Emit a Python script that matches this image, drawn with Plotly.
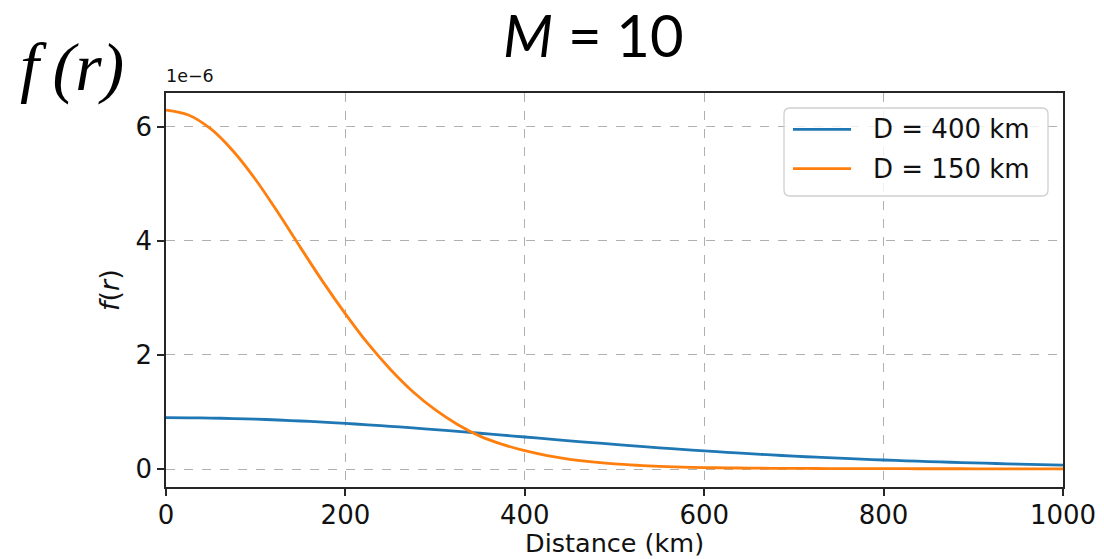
import plotly.graph_objects as go

# Distance from the source (km) and density curves, in units of 1e-6
distance_km = [0, 25, 50, 75, 100, 125, 150, 175, 200, 225, 250, 275, 300, 325, 350,
               375, 400, 425, 450, 475, 500, 525, 550, 575, 600, 625, 650, 675, 700,
               725, 750, 775, 800, 825, 850, 875, 900, 925, 950, 975, 1000]
f_d400 = [0.900, 0.898, 0.893, 0.885, 0.874, 0.859, 0.842, 0.822, 0.800, 0.775, 0.749,
          0.720, 0.690, 0.659, 0.627, 0.594, 0.561, 0.528, 0.495, 0.463, 0.432, 0.401,
          0.372, 0.344, 0.317, 0.292, 0.269, 0.247, 0.226, 0.207, 0.190, 0.173, 0.158,
          0.144, 0.131, 0.119, 0.107, 0.097, 0.087, 0.078, 0.070]
f_d150 = [6.29, 6.205, 5.96, 5.57, 5.07, 4.49, 3.88, 3.28, 2.72, 2.20, 1.75, 1.36, 1.04,
          0.781, 0.577, 0.432, 0.321, 0.235, 0.171, 0.124, 0.090, 0.066, 0.047, 0.035,
          0.026, 0.020, 0.016, 0.013, 0.011, 0.0095, 0.008, 0.007, 0.006, 0.0055, 0.005,
          0.0047, 0.0044, 0.004, 0.004, 0.0037, 0.0035]

series_names = ["D = 400 km", "D = 150 km"]
series_colors = ["#1f77b4", "#ff7f0e"]
x_ticks = [0, 200, 400, 600, 800, 1000]
y_ticks = [0, 2, 4, 6]

W, H = 1104, 559
ML, MR, MT, MB = 166, 41, 93, 72
PW, PH = W - ML - MR, H - MT - MB


def px(x):
    return (x - ML) / PW


def py(y):
    return (H - MB - y) / PH


fig = go.Figure()
for name, ys, col in zip(series_names, [f_d400, f_d150], series_colors):
    fig.add_trace(go.Scatter(
        x=distance_km, y=ys, mode="lines", name=name,
        line=dict(color=col, width=2.8, shape="spline", smoothing=1.0),
        showlegend=False,
    ))

axis_common = dict(
    showline=True, linecolor="#262626", linewidth=1.5, mirror=True,
    ticks="outside", ticklen=7, tickwidth=1.5, tickcolor="#262626",
    showgrid=True, gridcolor="#b0b0b0", gridwidth=1.3, griddash="dash",
    zeroline=False,
    tickfont=dict(family="DejaVu Sans", size=26, color="#111111"),
)

fig.update_xaxes(range=[0, 1000], tickvals=x_ticks, ticklabelstandoff=-3, **axis_common)
fig.update_yaxes(range=[-0.315, 6.59], tickvals=y_ticks, **axis_common)

shapes = []
annotations = []

# Legend box with rounded corners
x0, x1 = px(784), px(1048)
y0, y1 = py(196), py(108)
rx, ry = 6 / PW, 6 / PH
path = (f"M {x0+rx},{y0} L {x1-rx},{y0} Q {x1},{y0} {x1},{y0+ry} "
        f"L {x1},{y1-ry} Q {x1},{y1} {x1-rx},{y1} L {x0+rx},{y1} "
        f"Q {x0},{y1} {x0},{y1-ry} L {x0},{y0+ry} Q {x0},{y0} {x0+rx},{y0} Z")
shapes.append(dict(type="path", path=path, xref="paper", yref="paper",
                   fillcolor="rgba(255,255,255,0.8)",
                   line=dict(color="#d0d0d0", width=1.3), layer="above"))

for i, (name, col) in enumerate(zip(series_names, series_colors)):
    ly = py(129.3 + i * 39.4)
    shapes.append(dict(type="line", xref="paper", yref="paper",
                       x0=px(793), x1=px(851), y0=ly, y1=ly,
                       line=dict(color=col, width=2.8), layer="above"))
    annotations.append(dict(text=name, xref="paper", yref="paper",
                            x=px(871), y=ly, xanchor="left", yanchor="middle",
                            showarrow=False,
                            font=dict(family="DejaVu Sans", size=26, color="#111111")))

# Offset label of the y axis
annotations.append(dict(text="1e\u22126", xref="paper", yref="paper",
                        x=px(164), y=py(88), xanchor="left", yanchor="bottom",
                        showarrow=False,
                        font=dict(family="DejaVu Sans", size=17.5, color="#111111")))

# Axis titles
annotations.append(dict(text="Distance (km)", xref="paper", yref="paper",
                        x=0.5, y=py(542.5), xanchor="center", yanchor="middle",
                        showarrow=False,
                        font=dict(family="DejaVu Sans", size=25.5, color="#111111")))
annotations.append(dict(text="<i>f</i>(<i>r</i>)", xref="paper", yref="paper",
                        x=px(109), y=py(290), xanchor="center", yanchor="middle",
                        textangle=-90, showarrow=False,
                        font=dict(family="DejaVu Sans", size=27, color="#111111")))

# Headline and large formula symbol
annotations.append(dict(text="<i>M</i> = 10", xref="paper", yref="paper",
                        x=px(593), y=py(34), xanchor="center", yanchor="middle",
                        showarrow=False,
                        font=dict(family="Lato", size=58, color="#000000")))
annotations.append(dict(text="<i>f\u2009(r)</i>", xref="paper", yref="paper",
                        x=px(72), y=py(67), xanchor="center", yanchor="middle",
                        showarrow=False,
                        font=dict(family="Liberation Serif", size=68, color="#000000")))

fig.update_layout(
    width=W, height=H,
    margin=dict(l=ML, r=MR, t=MT, b=MB, autoexpand=False),
    paper_bgcolor="white", plot_bgcolor="white",
    shapes=shapes, annotations=annotations,
    showlegend=False,
)

fig.write_html("out.html")
